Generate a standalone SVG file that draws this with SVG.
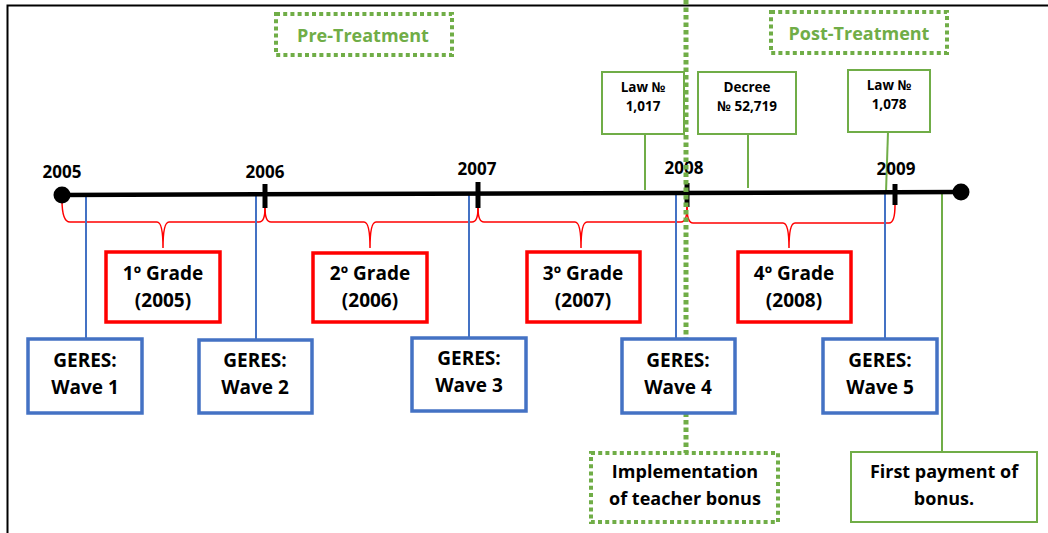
<svg xmlns="http://www.w3.org/2000/svg" width="1048" height="533" viewBox="0 0 1048 533">
<style>
text{font-family:"Open Sans","Liberation Sans",sans-serif;font-weight:700;text-anchor:middle;fill:#000}
.yr{font-size:17px}
.lg{font-size:18px}
.xl{font-size:19px}
.sm{font-size:13.5px}
.gt{fill:#70AD47;font-size:18px}
.red{fill:#fff;stroke:#FF0000;stroke-width:3.5}
.blue{fill:#fff;stroke:#4472C4;stroke-width:3.5}
.gbox{fill:#fff;stroke:#70AD47;stroke-width:2}
.dot{fill:#fff;stroke:#70AD47;stroke-width:4;stroke-dasharray:4 3.2}
.bl{stroke:#4472C4;stroke-width:2;fill:none}
.gl{stroke:#70AD47;stroke-width:2;fill:none}
.br{stroke:#FF0000;stroke-width:1.5;fill:none}
</style>
<rect width="1048" height="533" fill="#fff"/>
<path d="M7.5,533 V5.5 H1048" fill="none" stroke="#000" stroke-width="2"/>

<g id="connectors">
  <path class="br" d="M62,200 Q62,222 70,222 H157 Q163,222 163,248 Q163,222 169,222 H259 Q265,222 265,208"/>
  <path class="br" d="M265,208 Q265,222 271,222 H364 Q370,222 370,248 Q370,222 376,222 H472 Q478,222 478,208"/>
  <path class="br" d="M478,208 Q478,222 484,222 H575 Q581,222 581,248 Q581,222 587,222 H681 Q687,222 687,207"/>
  <path class="br" d="M687,207 Q687,223 693,223 H783 Q789,223 789,248 Q789,223 795,223 H889 Q895,223 895,205"/>
  <line class="bl" x1="86" y1="196" x2="86" y2="339"/>
  <line class="bl" x1="256" y1="196" x2="256" y2="340"/>
  <line class="bl" x1="469" y1="195" x2="469" y2="338"/>
  <line class="bl" x1="676" y1="194" x2="676" y2="339"/>
  <line class="bl" x1="885" y1="193" x2="885" y2="339"/>
  <line class="gl" x1="645" y1="134" x2="645" y2="190"/>
  <line class="gl" x1="748" y1="134" x2="748" y2="188"/>
  <line class="gl" x1="888" y1="132" x2="886" y2="192"/>
  <line class="gl" x1="942" y1="192" x2="942" y2="452"/>
</g>

<g id="timeline">
  <line x1="62" y1="195" x2="961" y2="192" stroke="#000" stroke-width="4.5"/>
  <circle cx="62" cy="195" r="8.5" fill="#000"/>
  <circle cx="961" cy="192" r="8.5" fill="#000"/>
  <line x1="265" y1="184" x2="265" y2="208" stroke="#000" stroke-width="5"/>
  <line x1="478" y1="182" x2="478" y2="208" stroke="#000" stroke-width="5"/>
  <line x1="687" y1="183" x2="687" y2="207" stroke="#000" stroke-width="5"/>
  <line x1="895" y1="184" x2="895" y2="205" stroke="#000" stroke-width="5"/>
  <text class="yr" x="62" y="178">2005</text>
  <text class="yr" x="265" y="178">2006</text>
  <text class="yr" x="477" y="175">2007</text>
  <text class="yr" x="684" y="174">2008</text>
  <text class="yr" x="896" y="175">2009</text>
</g>

<g id="law1017">
  <rect class="gbox" x="602" y="72" width="82" height="62"/>
  <text class="sm" x="643" y="92">Law №</text>
  <text class="sm" x="643" y="111">1,017</text>
</g>
<g id="decree">
  <rect class="gbox" x="698" y="72" width="98" height="62"/>
  <text class="sm" x="747" y="92">Decree</text>
  <text class="sm" x="747" y="111">№ 52,719</text>
</g>
<g id="law1078">
  <rect class="gbox" x="848" y="70" width="82" height="62"/>
  <text class="sm" x="889" y="90">Law №</text>
  <text class="sm" x="889" y="109">1,078</text>
</g>

<line id="treatment-divider" x1="686" y1="0" x2="686" y2="453" stroke="#70AD47" stroke-width="5" stroke-dasharray="4.5 3"/>

<g id="pre">
  <rect class="dot" x="276" y="14" width="176" height="41"/>
  <text class="gt" x="363" y="42">Pre-Treatment</text>
</g>
<g id="post">
  <rect class="dot" x="771" y="12" width="176" height="41"/>
  <text class="gt" x="859" y="40">Post-Treatment</text>
</g>

<g id="grade1">
  <rect class="red" x="106" y="252" width="114" height="70"/>
  <text class="xl" x="163" y="280">1º Grade</text>
  <text class="xl" x="163" y="307">(2005)</text>
</g>
<g id="grade2">
  <rect class="red" x="313" y="253" width="114" height="69"/>
  <text class="xl" x="370" y="280">2º Grade</text>
  <text class="xl" x="370" y="307">(2006)</text>
</g>
<g id="grade3">
  <rect class="red" x="527" y="252" width="113" height="70"/>
  <text class="xl" x="583" y="280">3º Grade</text>
  <text class="xl" x="583" y="307">(2007)</text>
</g>
<g id="grade4">
  <rect class="red" x="738" y="252" width="113" height="70"/>
  <text class="xl" x="794" y="280">4º Grade</text>
  <text class="xl" x="794" y="307">(2008)</text>
</g>

<g id="wave1">
  <rect class="blue" x="28" y="339" width="114" height="74"/>
  <text class="xl" x="85" y="367">GERES:</text>
  <text class="xl" x="85" y="394">Wave 1</text>
</g>
<g id="wave2">
  <rect class="blue" x="199" y="340" width="113" height="73"/>
  <text class="xl" x="255" y="367">GERES:</text>
  <text class="xl" x="255" y="394">Wave 2</text>
</g>
<g id="wave3">
  <rect class="blue" x="412" y="338" width="114" height="73"/>
  <text class="xl" x="469" y="365">GERES:</text>
  <text class="xl" x="469" y="392">Wave 3</text>
</g>
<g id="wave4">
  <rect class="blue" x="622" y="339" width="113" height="74"/>
  <text class="xl" x="678" y="367">GERES:</text>
  <text class="xl" x="678" y="394">Wave 4</text>
</g>
<g id="wave5">
  <rect class="blue" x="823" y="339" width="114" height="74"/>
  <text class="xl" x="880" y="367">GERES:</text>
  <text class="xl" x="880" y="394">Wave 5</text>
</g>

<g id="implementation">
  <rect class="dot" x="591" y="453" width="187" height="69"/>
  <text class="lg" x="685" y="478">Implementation</text>
  <text class="lg" x="685" y="505">of teacher bonus</text>
</g>
<g id="firstpayment">
  <rect class="gbox" x="851" y="452" width="186" height="70"/>
  <text class="lg" x="944" y="478">First payment of</text>
  <text class="lg" x="944" y="505">bonus.</text>
</g>
</svg>
